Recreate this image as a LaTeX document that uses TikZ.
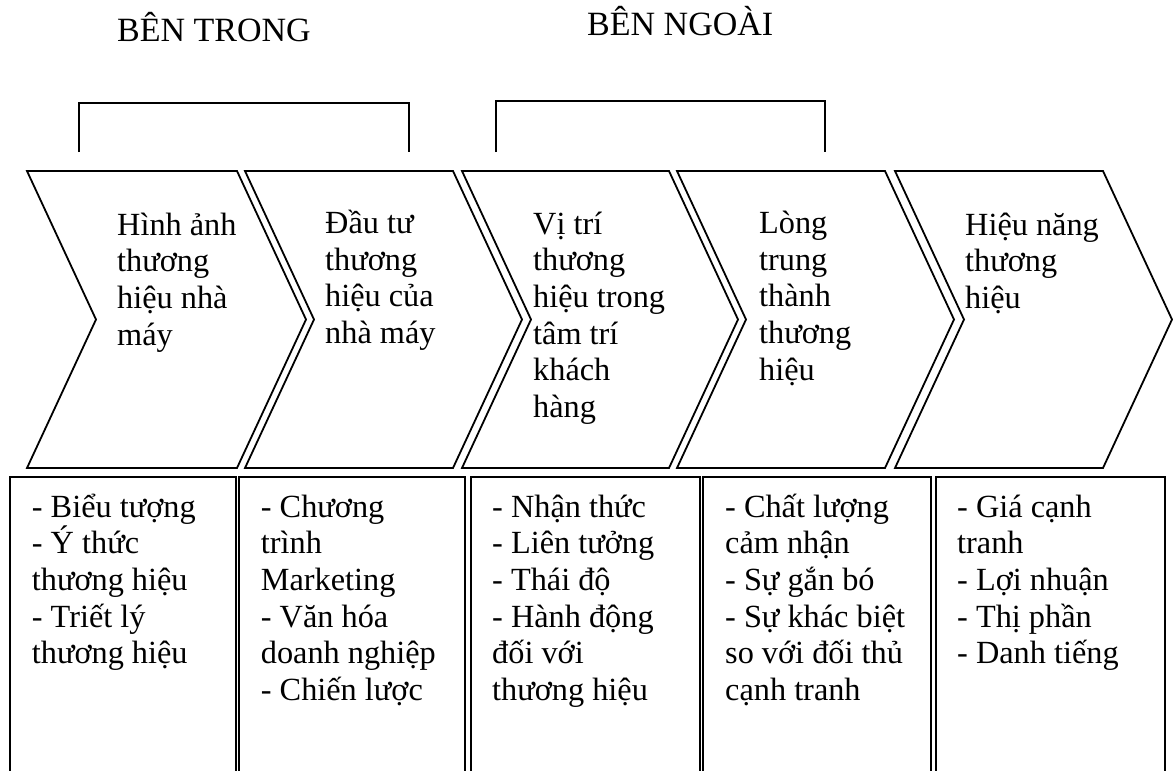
\documentclass[tikz,border=0pt]{standalone}
\usepackage{fontspec}
\setmainfont{Liberation Serif}
\newcommand\mylines[1]{\vtop{\baselineskip=36.7pt\lineskiplimit=-100pt\lineskip=0pt\halign{##\hfil\cr#1\crcr}}}
\tikzset{
  chev/.style={draw=black, line width=1.8pt, line join=miter},
  boxline/.style={draw=black, line width=2.2pt},
  brack/.style={draw=black, line width=2pt},
  txt/.style={anchor=base west, inner sep=0pt, font=\fontsize{32.3}{36.7}\selectfont},
  head/.style={anchor=base west, inner sep=0pt, font=\fontsize{34}{38}\selectfont}
}
\begin{document}
\begin{tikzpicture}[x=1pt, y=-1pt]
\useasboundingbox (0,0) rectangle (1173,771);
\clip (0,0) rectangle (1173,771);
\fill[white] (0,0) rectangle (1173,771);

% headers
\node[head] (hin) at (117,41.7) {BÊN TRONG};
\node[head] (hout) at (587,35) {BÊN NGOÀI};

% brackets
\draw[brack] (79,152) -- (79,103) -- (409,103) -- (409,152);
\draw[brack] (496,152) -- (496,101) -- (825,101) -- (825,152);

% chevrons
\foreach \L/\R in {27/237, 245/453, 462/669, 677/885, 895/1103}{
  \draw[chev] (\L,171) -- (\R,171) -- (\R+69,319.5) -- (\R,468) -- (\L,468) -- (\L+69,319.5) -- cycle;
}

% boxes (open at the bottom edge of the picture)
\foreach \L/\R in {10/236, 239/465, 471/700, 703/931, 936/1165}{
  \draw[boxline] (\L,800) -- (\L,477) -- (\R,477) -- (\R,800);
}

% chevron texts
\node[txt] (c1) at (117,235) {\mylines{Hình ảnh\cr thương\cr hiệu nhà\cr máy}};
\node[txt] (c2) at (325,233.5) {\mylines{Đầu tư\cr thương\cr hiệu của\cr nhà máy}};
\node[txt] (c3) at (533,234) {\mylines{Vị trí\cr thương\cr hiệu trong\cr tâm trí\cr khách\cr hàng}};
\node[txt] (c4) at (759,233.5) {\mylines{Lòng\cr trung\cr thành\cr thương\cr hiệu}};
\node[txt] (c5) at (965,235) {\mylines{Hiệu năng\cr thương\cr hiệu}};

% box texts
\node[txt] (b1) at (31.7,517) {\mylines{- Biểu tượng\cr - Ý thức\cr thương hiệu\cr - Triết lý\cr thương hiệu}};
\node[txt] (b2) at (260.7,517) {\mylines{- Chương\cr trình\cr Marketing\cr - Văn hóa\cr doanh nghiệp\cr - Chiến lược}};
\node[txt] (b3) at (492,517) {\mylines{- Nhận thức\cr - Liên tưởng\cr - Thái độ\cr - Hành động\cr đối với\cr thương hiệu}};
\node[txt] (b4) at (725,517) {\mylines{- Chất lượng\cr cảm nhận\cr - Sự gắn bó\cr - Sự khác biệt\cr so với đối thủ\cr cạnh tranh}};
\node[txt] (b5) at (957,517) {\mylines{- Giá cạnh\cr tranh\cr - Lợi nhuận\cr - Thị phần\cr - Danh tiếng}};
\end{tikzpicture}
\end{document}
